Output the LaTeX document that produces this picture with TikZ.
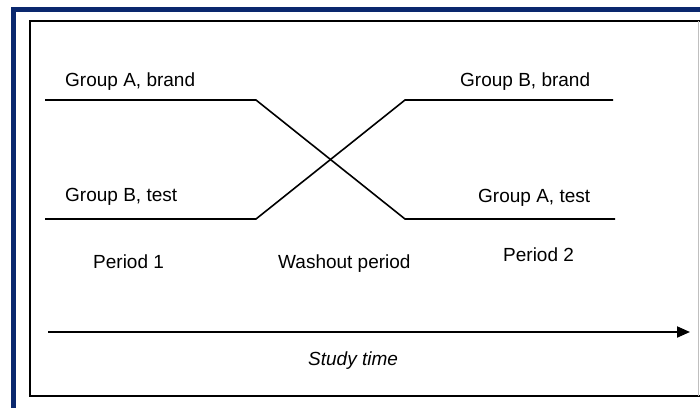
\documentclass[tikz,border=0pt]{standalone}
\usepackage{fontspec}
\setmainfont{Liberation Sans}
\usetikzlibrary{arrows.meta}
\definecolor{borderblue}{RGB}{10,40,110}
\begin{document}
\begin{tikzpicture}[x=1pt, y=-1pt,
    every node/.style={font=\fontsize{19}{22}\selectfont, inner sep=0pt, anchor=base west},
    arm/.style={line width=1.6pt}]
        \useasboundingbox (0,0) rectangle (700,407);
        % Draw the outer blue border and the inner frame
        \draw[borderblue, line width=5pt] (13,420) -- (13,9) -- (710,9);
        \draw[line width=2.4pt] (710,21) -- (30,21) -- (30,396) -- (710,396);
        \draw[black!25, line width=1pt] (698,21) -- (698,396);

        % Define the corner points of the two group lines
        \foreach \name/\x/\y in {a1/45/100, a2/256/100, a3/405/219, a4/615/219,
                                 b1/45/219, b2/256/219, b3/405/100, b4/613/100} {
            \coordinate (\name) at (\x,\y);
        }
        % Draw the crossing lines
        \draw[arm] (a1) -- (a2) -- (a3) -- (a4);
        \draw[arm] (b1) -- (b2) -- (b3) -- (b4);

        % Draw the labels
        \node (gab) at (65,86) {Group A, brand};
        \node (gbb) at (460,86) {Group B, brand};
        \node (gbt) at (65,201) {Group B, test};
        \node (gat) at (478,202) {Group A, test};
        \node (per1) at (93,268) {Period 1};
        \node (wash) at (278,268) {Washout period};
        \node (per2) at (503,261) {Period 2};

        % Draw the time axis
        \coordinate (t0) at (48,332);
        \coordinate (t1) at (690,332);
        \draw[line width=2pt, -{Triangle[length=13pt,width=11pt]}] (t0) -- (t1);
        \node (time) at (308,365) {\itshape Study time};
    \end{tikzpicture}
\end{document}
